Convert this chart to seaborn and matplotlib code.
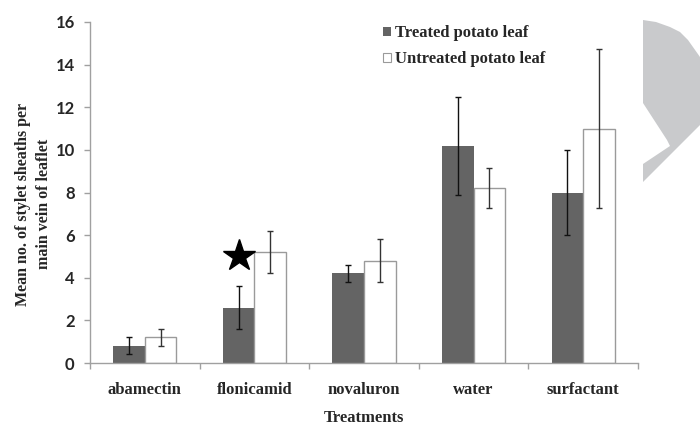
import numpy as np
import pandas as pd
import matplotlib
matplotlib.use("Agg")
import matplotlib.pyplot as plt
from matplotlib.patches import Patch, Polygon
import seaborn as sns

# data
treatments = ["abamectin", "flonicamid", "novaluron", "water", "surfactant"]
series = ["Treated potato leaf", "Untreated potato leaf"]
treated_mean = [0.8, 2.6, 4.2, 10.2, 8.0]
treated_err = [0.4, 1.0, 0.4, 2.3, 2.0]
untreated_mean = [1.2, 5.2, 4.8, 8.2, 11.0]
untreated_err = [0.4, 1.0, 1.0, 0.95, 3.75]
star_treatment = "flonicamid"
star_value = 5.0
y_ticks = [0, 2, 4, 6, 8, 10, 12, 14, 16]

sns.set_theme(style="white")
plt.rcParams["font.family"] = ["Liberation Serif", "DejaVu Serif"]

df = pd.DataFrame({
    "treatment": treatments * 2,
    "group": [series[0]] * 5 + [series[1]] * 5,
    "mean": treated_mean + untreated_mean,
    "err": treated_err + untreated_err,
})

fig = plt.figure(figsize=(7, 4.25), dpi=100)
ax = fig.add_axes([90 / 700, 1 - 363 / 425, 548 / 700, 341 / 425])

palette = {series[0]: "#646464", series[1]: "#ffffff"}
sns.barplot(data=df, x="treatment", y="mean", hue="group", order=treatments,
            hue_order=series, palette=palette, width=0.575, errorbar=None,
            saturation=1, legend=False, ax=ax)

# white bars get a grey outline, dark bars none
n = len(treatments)
for i, bar in enumerate(ax.patches[:2 * n]):
    if i >= n:
        bar.set_edgecolor("#9a9a9a")
        bar.set_linewidth(1.0)
    else:
        bar.set_edgecolor("none")

# error bars from the bar geometry
for i, bar in enumerate(ax.patches[:2 * n]):
    xc = bar.get_x() + bar.get_width() / 2
    err = df["err"].iloc[i]
    col = "#111111" if i < n else "#333333"
    ax.errorbar(xc, bar.get_height(), yerr=err, fmt="none", ecolor=col,
                elinewidth=1.0, capsize=2.5, capthick=1.0, zorder=5)

# significance star above flonicamid treated bar
k = treatments.index(star_treatment)
sb = ax.patches[k]
ax.plot(sb.get_x() + sb.get_width() / 2, star_value, marker="*", color="black",
        markersize=24, zorder=6, clip_on=False)

ax.set_ylim(0, 16)
ax.set_xlim(-0.5, n - 0.5)
ax.set_yticks(y_ticks)
ax.set_yticklabels([str(t) for t in y_ticks], fontsize=12, fontweight="bold",
                   family=["Lato", "DejaVu Sans"])
ax.set_xticks(range(n))
ax.set_xticklabels(treatments, fontsize=12, fontweight="bold")
ax.set_xticks(np.arange(-0.5, n, 1.0), minor=True)

for side in ["top", "right"]:
    ax.spines[side].set_visible(False)
for side in ["left", "bottom"]:
    ax.spines[side].set_color("#a0a0a0")
    ax.spines[side].set_linewidth(1.0)

ax.tick_params(axis="y", which="major", direction="out", length=4, width=1,
               color="#a0a0a0", left=True, pad=7)
ax.tick_params(axis="x", which="major", length=0, pad=14)
ax.tick_params(axis="x", which="minor", direction="out", length=4, width=1,
               color="#a0a0a0", bottom=True)

ax.set_xlabel("Treatments", fontsize=12, fontweight="bold", labelpad=8)
ax.set_ylabel("Mean no. of stylet sheaths per\nmain vein of leaflet",
              fontsize=11.5, fontweight="bold", linespacing=1.4)
ax.yaxis.set_label_coords(-0.07, 0.466)

handles = [Patch(facecolor="#646464", edgecolor="none"),
           Patch(facecolor="white", edgecolor="#9a9a9a", linewidth=0.8)]
ax.legend(handles, series, loc="upper left", bbox_to_anchor=(0.508, 1.035),
          frameon=False, prop={"weight": "bold", "size": 12},
          handlelength=0.45, handleheight=0.45, handletextpad=0.25,
          labelspacing=0.6)

# grey watermark shape on the right edge
pts_px = [(643, 20), (656, 22), (670, 27), (680, 32), (688, 40), (700, 57),
          (700, 125), (643, 182), (643, 164), (652, 158), (664, 150),
          (670, 146), (667, 140), (643, 103)]
pts = [(x / 700, 1 - y / 425) for x, y in pts_px]
fig.patches.append(Polygon(pts, closed=True, transform=fig.transFigure,
                           facecolor="#c9cacc", edgecolor="none", zorder=0))

fig.savefig("out.png", dpi=100)
